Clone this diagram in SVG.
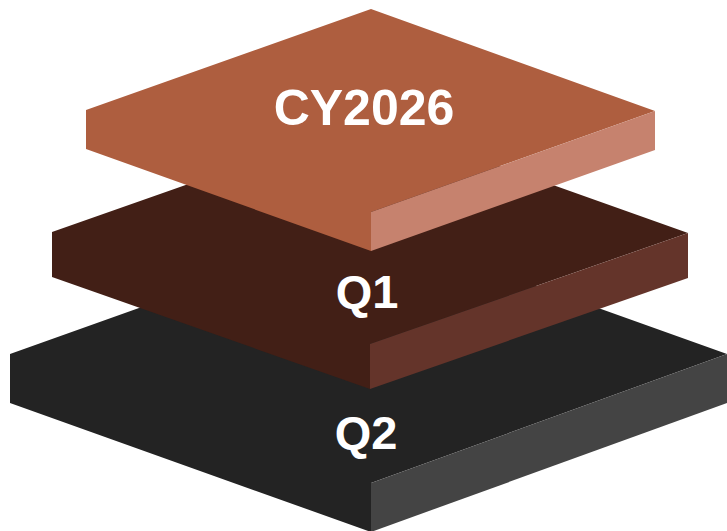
<svg xmlns="http://www.w3.org/2000/svg" width="727" height="531" viewBox="0 0 727 531">
  <style>
    .lbl { font-family: "Liberation Sans", Arial, sans-serif; font-weight: bold; fill: #ffffff; text-anchor: middle; }
  </style>
  <rect width="727" height="531" fill="#ffffff"/>
  <g id="slab-q2">
    <polygon points="369,226 727,354 371,483 371,532 10,403 10,354" fill="#232323"/>
    <polygon points="371,483 727,354 727,403 371,532" fill="#444444"/>
    <text class="lbl" x="366" y="449" font-size="47">Q2</text>
  </g>
  <g id="slab-q1">
    <polygon points="370,120 688,233 370,344 370,389 52,277 52,232" fill="#421F16"/>
    <polygon points="370,344 688,233 688,278 370,389" fill="#64342A"/>
    <text class="lbl" x="367" y="308" font-size="47">Q1</text>
  </g>
  <g id="slab-cy2026">
    <polygon points="371,9 655,111 371,212 371,251 86,149 86,110" fill="#AE5E3F"/>
    <polygon points="371,212 655,111 655,150 371,251" fill="#C6826E"/>
    <text class="lbl" x="364" y="125" font-size="50">CY2026</text>
  </g>
  <g id="connectors"/>
</svg>
